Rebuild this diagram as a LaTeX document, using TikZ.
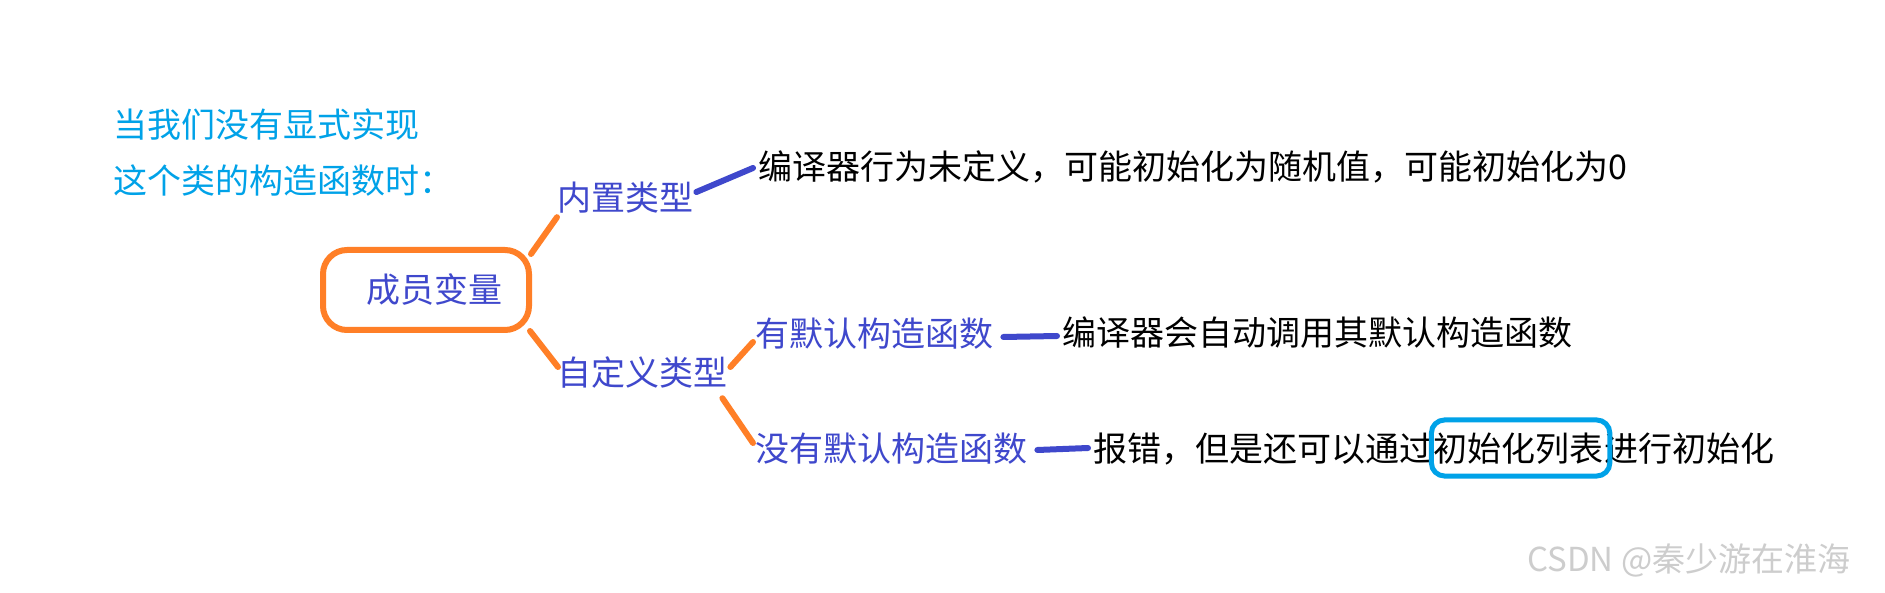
\documentclass[tikz,border=0pt]{standalone}
\usepackage{fontspec}
\setmainfont{Noto Sans CJK SC}
\usetikzlibrary{calc}
\definecolor{skyc}{RGB}{0,162,232}
\definecolor{indigoc}{RGB}{63,72,204}
\definecolor{orangec}{RGB}{255,127,39}
\definecolor{wmc}{RGB}{205,205,205}
\begin{document}
\begin{tikzpicture}[x=1pt,y=-1pt,
  txt/.style={inner sep=0pt, anchor=west, font=\fontsize{34}{40}\selectfont, text height=30pt, text depth=4pt},
  cyantxt/.style={txt, text=skyc},
  bluetxt/.style={txt, text=indigoc},
  blacktxt/.style={txt, text=black},
  oline/.style={draw=orangec, line width=6pt, line cap=round},
  bline/.style={draw=indigoc, line width=6pt, line cap=round},
  membox/.style={draw=orangec, line width=6pt, rounded corners=24pt, minimum width=206pt, minimum height=80pt, inner sep=0pt, text=indigoc, font=\fontsize{34}{40}\selectfont, text height=30pt, text depth=4pt},
  hibox/.style={draw=skyc, line width=5pt, rounded corners=13pt}
]
\path[fill=white, use as bounding box] (0,0) rectangle (1885,593);

\node[cyantxt] (title1) at (113,125) {当我们没有显式实现};
\node[cyantxt] (title2) at (113,181) {这个类的构造函数时：};

\node[membox] (member) at (426,290) {\hspace*{16pt}成员变量};

\node[bluetxt] (builtin) at (557,198) {内置类型};
\node[bluetxt] (custom) at (557,373) {自定义类型};
\node[bluetxt] (hasdef) at (755,334) {有默认构造函数};
\node[bluetxt] (nodef) at (755,448) {没有默认构造函数};

\node[blacktxt] (t1) at (758,167) {编译器行为未定义，可能初始化为随机值，可能初始化为0};
\node[blacktxt] (t2) at (1062,333) {编译器会自动调用其默认构造函数};
\node[blacktxt] (t3a) at (1093,448) {报错，但是还可以通过};
\node[blacktxt] (t3b) at (t3a.east) {初始化列表};
\node[blacktxt] (t3c) at (t3b.east) {进行初始化};

\draw[hibox] ([shift={(-2,-28)}]t3b.west) rectangle ([shift={(6,28)}]t3b.east);

\draw[oline] ([shift={(-1,7)}]member.north east) -- ([shift={(0,2)}]builtin.south west);
\draw[oline] ([shift={(-2,-2)}]member.south east) -- ([shift={(1,-6)}]custom.west);
\draw[oline] ([shift={(3,-6)}]custom.east) -- ([shift={(-2,8)}]hasdef.west);
\draw[oline] ([shift={(-5,8)}]custom.south east) -- ([shift={(-2,-5)}]nodef.west);

\draw[bline] ([shift={(3,-6)}]builtin.east) -- ([shift={(-5,1)}]t1.west);
\draw[bline] ([shift={(10,3)}]hasdef.east) -- ([shift={(-5,3)}]t2.west);
\draw[bline] ([shift={(10,2)}]nodef.east) -- ([shift={(-5,0)}]t3a.west);

\node[txt, text=wmc, font=\fontsize{33}{40}\selectfont] (wm) at (1527,558) {CSDN @秦少游在淮海};
\end{tikzpicture}
\end{document}
